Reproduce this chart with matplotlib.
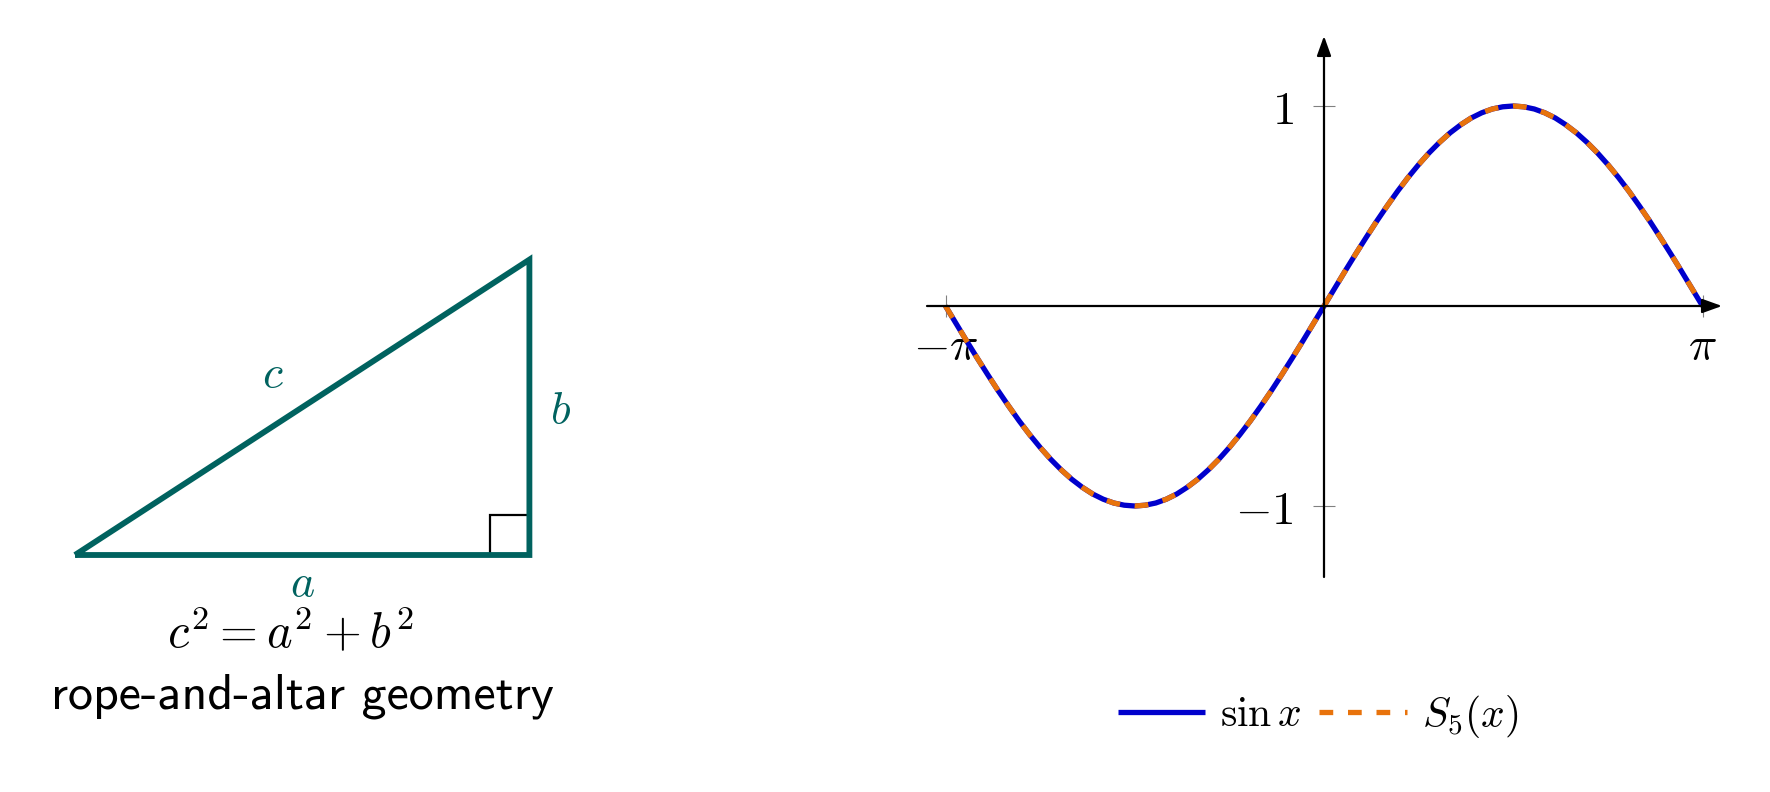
import numpy as np
import matplotlib
matplotlib.use("Agg")
import matplotlib.pyplot as plt

plt.rcParams['mathtext.fontset'] = 'cm'

# triangle legs (cm) and labels
leg_a = 4.0
leg_b = 2.6
corner_size = 0.35
side_labels = ['$a$', '$b$', '$c$']
caption_eq = r'$c^2 = a^2 + b^2$'
caption_txt = 'rope-and-altar geometry'

# curve samples, every 5 degrees from -180 to 180
x_deg = np.arange(-180, 181, 5)
sin_vals = [0.000, -0.087, -0.174, -0.259, -0.342, -0.423, -0.500, -0.574, -0.643, -0.707,
            -0.766, -0.819, -0.866, -0.906, -0.940, -0.966, -0.985, -0.996, -1.000,
            -0.996, -0.985, -0.966, -0.940, -0.906, -0.866, -0.819, -0.766, -0.707,
            -0.643, -0.574, -0.500, -0.423, -0.342, -0.259, -0.174, -0.087, 0.000,
            0.087, 0.174, 0.259, 0.342, 0.423, 0.500, 0.574, 0.643, 0.707,
            0.766, 0.819, 0.866, 0.906, 0.940, 0.966, 0.985, 0.996, 1.000,
            0.996, 0.985, 0.966, 0.940, 0.906, 0.866, 0.819, 0.766, 0.707,
            0.643, 0.574, 0.500, 0.423, 0.342, 0.259, 0.174, 0.087, 0.000]
s5_vals = [0.000, -0.087, -0.174, -0.259, -0.342, -0.423, -0.500, -0.574, -0.643, -0.707,
           -0.766, -0.819, -0.866, -0.906, -0.940, -0.966, -0.985, -0.996, -1.000,
           -0.996, -0.985, -0.966, -0.940, -0.906, -0.866, -0.819, -0.766, -0.707,
           -0.643, -0.574, -0.500, -0.423, -0.342, -0.259, -0.174, -0.087, 0.000,
           0.087, 0.174, 0.259, 0.342, 0.423, 0.500, 0.574, 0.643, 0.707,
           0.766, 0.819, 0.866, 0.906, 0.940, 0.966, 0.985, 0.996, 1.000,
           0.996, 0.985, 0.966, 0.940, 0.906, 0.866, 0.819, 0.766, 0.707,
           0.643, 0.574, 0.500, 0.423, 0.342, 0.259, 0.174, 0.087, 0.000]
xtick_vals = [-np.pi, np.pi]
xtick_labels = [r'$-\pi$', r'$\pi$']
ytick_vals = [-1, 1]
ytick_labels = [r'$-1$', r'$1$']
legend_labels = [r'$\sin x$', r'$S_5(x)$']

teal = '#00625f'
blue = '#0000cc'
orange = '#e8730c'

W, H = 1770, 792
fig = plt.figure(figsize=(W / 100, H / 100), dpi=100)

# ---- left panel: triangle, 1 cm = 113.6 px
s = 113.6
ox, oy = 75, 555
axL = fig.add_axes([0, 0, 700 / W, 1])
axL.set_xlim(-ox / s, (700 - ox) / s)
axL.set_ylim((oy - H) / s, oy / s)
axL.axis('off')

axL.plot([leg_a - corner_size, leg_a - corner_size, leg_a], [0, corner_size, corner_size],
         color='black', lw=1.6, solid_joinstyle='miter')
axL.plot([0, leg_a, leg_a, 0], [0, 0, leg_b, 0], color=teal, lw=4.2,
         solid_joinstyle='miter', solid_capstyle='butt')

axL.text(leg_a / 2, -0.25, side_labels[0], color=teal, fontsize=33, ha='center', va='center')
axL.text(leg_a + 0.27, leg_b / 2 - 0.03, side_labels[1], color=teal, fontsize=33, ha='center', va='center')
axL.text(leg_a / 2 - 0.26, leg_b / 2 + 0.29, side_labels[2], color=teal, fontsize=33, ha='center', va='center')
axL.text(1.9, -0.69, caption_eq, fontsize=35, ha='center', va='center')
axL.text(2.0, -1.24, caption_txt, fontsize=36, family='cmss10', ha='center', va='center')

# ---- right panel: sine plot
x_rad = np.deg2rad(x_deg)
sx = 757 / (2 * np.pi)
left_px, right_px = 927, 1722
top_px, bot_px = 36, 577
xc, yc, sy = 1324, 306, 200
ax = fig.add_axes([left_px / W, 1 - bot_px / H, (right_px - left_px) / W, (bot_px - top_px) / H])
ax.set_xlim((left_px - xc) / sx, (right_px - xc) / sx)
ax.set_ylim((yc - bot_px) / sy, (yc - top_px) / sy)
ax.set_facecolor('none')
for side in ['top', 'right', 'left', 'bottom']:
    ax.spines[side].set_visible(False)
ax.spines['left'].set_position(('data', 0))
ax.spines['bottom'].set_position(('data', 0))

arrow = dict(arrowstyle='-|>,head_length=0.75,head_width=0.27', color='black', lw=1.6,
             mutation_scale=16, shrinkA=0, shrinkB=0)
xl, xr = ax.get_xlim()
yb, yt = ax.get_ylim()
ax.annotate('', xy=(xr, 0), xytext=(xl, 0), arrowprops=arrow, annotation_clip=False)
ax.annotate('', xy=(0, yt), xytext=(0, yb), arrowprops=arrow, annotation_clip=False)

ax.set_xticks(xtick_vals)
ax.set_xticklabels(xtick_labels)
ax.set_yticks(ytick_vals)
ax.set_yticklabels(ytick_labels)
ax.tick_params(direction='inout', length=16, width=0.8, color='gray', labelsize=34)
ax.tick_params(axis='x', pad=6)
ax.tick_params(axis='y', pad=14)

ax.plot(x_rad, sin_vals, color=blue, lw=3.8, label=legend_labels[0], solid_capstyle='butt', clip_on=False)
ax.plot(x_rad, s5_vals, color=orange, lw=3.8, dashes=(2.6, 2.8), dash_capstyle='butt',
        label=legend_labels[1], clip_on=False)

fig.legend(loc='center', bbox_to_anchor=(1318 / W, 1 - 716 / H), ncol=2, frameon=False,
           fontsize=30, handlelength=2.1, handletextpad=0.35, columnspacing=0.45)

fig.savefig('out.png', dpi=100)
